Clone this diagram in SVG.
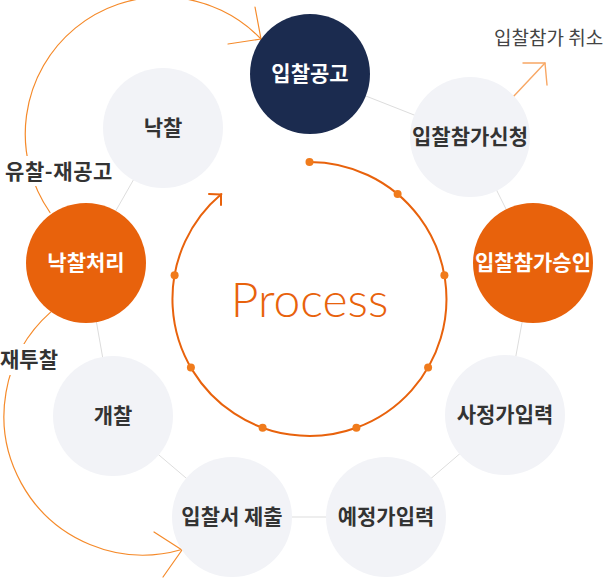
<svg xmlns="http://www.w3.org/2000/svg" width="606" height="578" viewBox="0 0 606 578">
<style>
.node-gray{fill:#f2f3f7}
.node-navy{fill:#1b2b4f}
.node-orange{fill:#e8620c}
.lbl{font-family:"Noto Sans CJK KR","Noto Sans",sans-serif;font-weight:bold;font-size:21px;text-anchor:middle}
.dark{fill:#333333}
.light{fill:#ffffff}
.conn{stroke:#dddddd;stroke-width:1;fill:none}
.ring{stroke:#e8620c;stroke-width:2;fill:none;stroke-linecap:round;stroke-linejoin:round}
.loop{stroke:#f58a2a;stroke-width:1.2;fill:none;stroke-linecap:round;stroke-linejoin:round}
.cancel{stroke:#f8a764;stroke-width:1.4;fill:none;stroke-linecap:round;stroke-linejoin:round}
.dot{fill:#f07b1c}
.side{font-family:"Noto Sans CJK KR","Noto Sans",sans-serif;font-weight:bold;font-size:21px;fill:#333333}
</style>
<rect width="606" height="578" fill="#ffffff"/>
<g id="connectors">
<line class="conn" x1="310" y1="74" x2="470" y2="137"/>
<line class="conn" x1="470" y1="137" x2="533" y2="263"/>
<line class="conn" x1="533" y1="263" x2="505" y2="415"/>
<line class="conn" x1="505" y1="415" x2="386" y2="517"/>
<line class="conn" x1="386" y1="517" x2="232" y2="517"/>
<line class="conn" x1="232" y1="517" x2="113" y2="416"/>
<line class="conn" x1="113" y1="416" x2="86" y2="263"/>
<line class="conn" x1="86" y1="263" x2="163" y2="128"/>
<path class="loop" d="M 50 212.5 A 137 137 0 0 1 261 39"/>
<path class="loop" d="M 255 7 L 261 39 L 228 44"/>
<path class="loop" d="M 50.9 311.9 A 139 139 0 0 0 181.8 549.5"/>
<path class="loop" d="M 154 532 L 182 550 L 163 577"/>
<path class="cancel" d="M 513 97 L 545 63"/>
<path class="cancel" d="M 523 63 L 545 63 L 547 85"/>
</g>
<g id="ring">
<path class="ring" d="M 309.5 162 A 137 137 0 1 1 221.4 194.05"/>
<path class="ring" d="M 209 194 L 221 194.5 L 221 205" stroke-width="1.6"/>
<circle class="dot" cx="309.5" cy="162" r="4"/>
<circle class="dot" cx="397.6" cy="194.05" r="4"/>
<circle class="dot" cx="444.4" cy="275.2" r="4"/>
<circle class="dot" cx="428.1" cy="367.5" r="4"/>
<circle class="dot" cx="356.4" cy="427.7" r="4"/>
<circle class="dot" cx="262.6" cy="427.7" r="4"/>
<circle class="dot" cx="190.9" cy="367.5" r="4"/>
<circle class="dot" cx="174.6" cy="275.2" r="4"/>
<text x="309.5" y="317" font-family="Lato, 'Open Sans', sans-serif" font-weight="300" font-size="48" fill="#e8620c" text-anchor="middle">Process</text>
</g>
<g id="label-rebid-notice">
<rect x="2" y="156" width="116" height="30" fill="#ffffff"/>
<text class="side" x="5" y="179" letter-spacing="0.6">유찰-재공고</text>
</g>
<g id="label-rebid">
<rect x="0" y="344" width="62" height="31" fill="#ffffff"/>
<text class="side" x="0" y="367">재투찰</text>
</g>
<g id="label-cancel">
<text x="494" y="45" font-family="'Noto Sans CJK KR','Noto Sans',sans-serif" font-size="19" fill="#444444">입찰참가 취소</text>
</g>
<g id="node-notice"><circle class="node-navy" cx="310" cy="74" r="60"/><text class="lbl light" x="310" y="81">입찰공고</text></g>
<g id="node-apply"><circle class="node-gray" cx="470" cy="137" r="60"/><text class="lbl dark" x="470" y="144">입찰참가신청</text></g>
<g id="node-approve"><circle class="node-orange" cx="533" cy="263" r="60"/><text class="lbl light" x="533" y="270">입찰참가승인</text></g>
<g id="node-preprice"><circle class="node-gray" cx="505" cy="415" r="60"/><text class="lbl dark" x="505" y="422">사정가입력</text></g>
<g id="node-estprice"><circle class="node-gray" cx="386" cy="517" r="60"/><text class="lbl dark" x="386" y="524">예정가입력</text></g>
<g id="node-submit"><circle class="node-gray" cx="232" cy="517" r="60"/><text class="lbl dark" x="232" y="524">입찰서 제출</text></g>
<g id="node-open"><circle class="node-gray" cx="113" cy="416" r="60"/><text class="lbl dark" x="113" y="423">개찰</text></g>
<g id="node-process"><circle class="node-orange" cx="86" cy="263" r="60"/><text class="lbl light" x="86" y="270">낙찰처리</text></g>
<g id="node-award"><circle class="node-gray" cx="163" cy="128" r="60"/><text class="lbl dark" x="163" y="135">낙찰</text></g>
</svg>
